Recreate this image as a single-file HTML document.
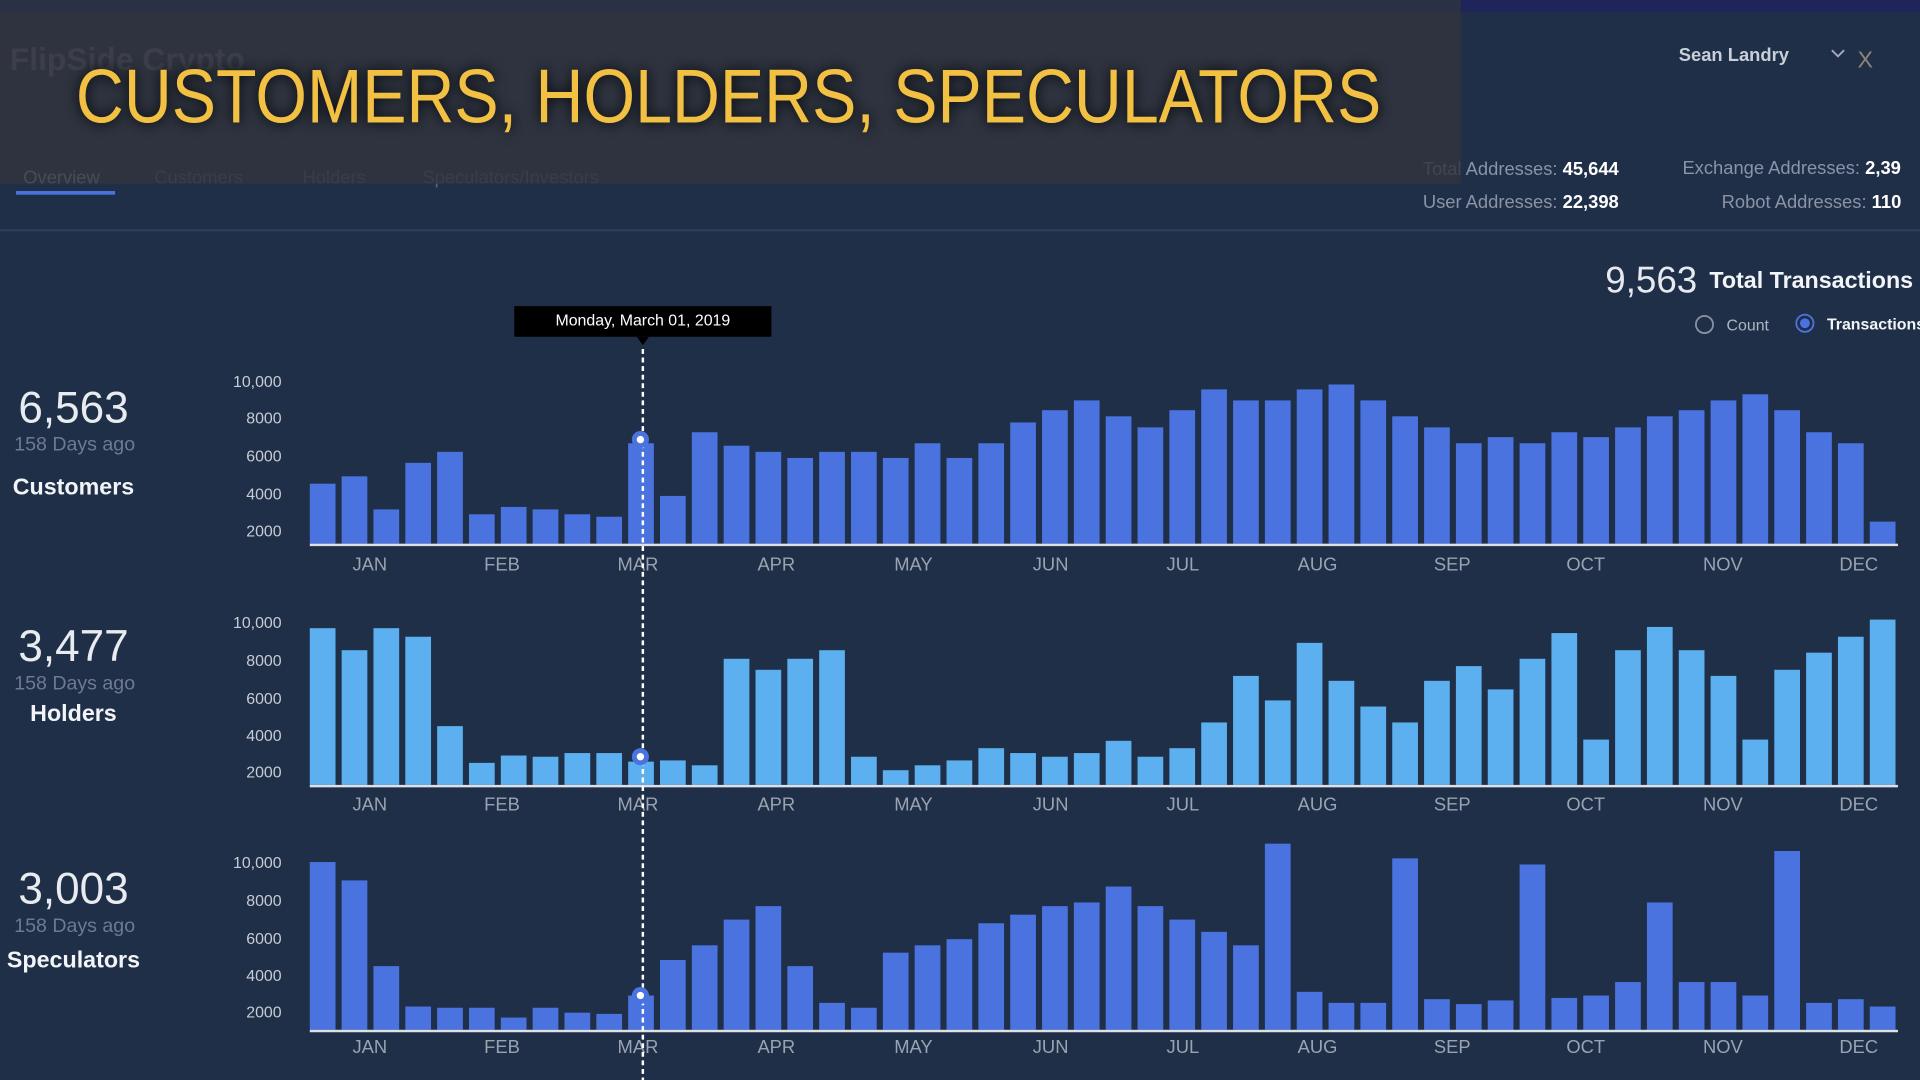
<!DOCTYPE html>
<html><head><meta charset="utf-8"><style>
html,body{margin:0;padding:0;background:#1f2f48;overflow:hidden}
svg{display:block}
text{font-family:"Liberation Sans",sans-serif}
</style></head><body>
<svg width="1920" height="1080" viewBox="0 0 1568 882" xmlns="http://www.w3.org/2000/svg">
<rect width="1568" height="882" fill="#1f2f48"/>
<rect x="0" y="0" width="1568" height="10" fill="#1f2558"/>
<rect x="0" y="0" width="1193" height="10" fill="#2b3145"/>
<!-- header underneath -->
<text x="8" y="57" font-size="26" font-weight="bold" fill="#6b7280">FlipSide Crypto</text>
<text x="19" y="150" font-size="15" fill="#b0b6c2">Overview</text>
<rect x="13" y="156" width="81" height="3" fill="#4a73e0"/>
<text x="126" y="150" font-size="15" fill="#5b6578">Customers</text>
<text x="247" y="150" font-size="15" fill="#5b6578">Holders</text>
<text x="345" y="150" font-size="15" fill="#5b6578">Speculators/Investors</text>
<rect x="0" y="187" width="1568" height="2" fill="#2c3d58"/>
<text x="1371" y="50" font-size="15" font-weight="bold" fill="#c9ced8">Sean Landry</text>
<path d="M1496 41 l5 5 l5 -5" stroke="#aab" stroke-width="1.5" fill="none"/>
<text x="1517" y="55" font-size="19" fill="#8a8578">X</text>
<text x="1322" y="143" font-size="15" text-anchor="end" fill="#8b93a5">Total Addresses: <tspan fill="#fff" font-weight="bold">45,644</tspan></text>
<text x="1322" y="170" font-size="15" text-anchor="end" fill="#8b93a5">User Addresses: <tspan fill="#fff" font-weight="bold">22,398</tspan></text>
<text x="1374" y="142" font-size="15" fill="#8b93a5">Exchange Addresses: <tspan fill="#fff" font-weight="bold">2,39</tspan></text>
<text x="1406" y="170" font-size="15" fill="#8b93a5">Robot Addresses: <tspan fill="#fff" font-weight="bold">110</tspan></text>
<text x="1311" y="239" font-size="30" fill="#e6e9ef">9,563</text>
<text x="1396" y="235" font-size="19" font-weight="bold" fill="#f2f4f7">Total Transactions</text>
<circle cx="1392" cy="265" r="7" fill="none" stroke="#8a90a0" stroke-width="1.5"/>
<text x="1410" y="270" font-size="13" fill="#aeb5c2">Count</text>
<circle cx="1474" cy="264" r="7" fill="none" stroke="#4a73e0" stroke-width="1.5"/>
<circle cx="1474" cy="264" r="4" fill="#4a73e0"/>
<text x="1492" y="269" font-size="13" font-weight="bold" fill="#f2f4f7">Transactions</text>
<!-- overlay -->
<rect x="0" y="10" width="1193" height="140" fill="#32353d" opacity="0.82"/>
<text x="62" y="100" font-size="62" fill="#f2c043" textLength="1066" lengthAdjust="spacingAndGlyphs" style="text-shadow:0 0 14px #000">CUSTOMERS, HOLDERS, SPECULATORS</text>

<!-- left labels -->
<g text-anchor="middle">
<text x="60" y="345" font-size="36" fill="#e8ebf0">6,563</text>
<text x="61" y="368" font-size="16" fill="#6e7a8e">158 Days ago</text>
<text x="60" y="404" font-size="19" font-weight="bold" fill="#f2f4f7">Customers</text>
<text x="60" y="540" font-size="36" fill="#e8ebf0">3,477</text>
<text x="61" y="563" font-size="16" fill="#6e7a8e">158 Days ago</text>
<text x="60" y="589" font-size="19" font-weight="bold" fill="#f2f4f7">Holders</text>
<text x="60" y="738" font-size="36" fill="#e8ebf0">3,003</text>
<text x="61" y="761" font-size="16" fill="#6e7a8e">158 Days ago</text>
<text x="60" y="790" font-size="19" font-weight="bold" fill="#f2f4f7">Speculators</text>
</g>

<!-- y ticks -->
<g font-size="13" fill="#c8ccd4" text-anchor="end">
<text x="230" y="316">10,000</text><text x="230" y="346">8000</text><text x="230" y="377">6000</text><text x="230" y="408">4000</text><text x="230" y="438">2000</text>
<text x="230" y="513">10,000</text><text x="230" y="544">8000</text><text x="230" y="575">6000</text><text x="230" y="605">4000</text><text x="230" y="635">2000</text>
<text x="230" y="709">10,000</text><text x="230" y="740">8000</text><text x="230" y="771">6000</text><text x="230" y="801">4000</text><text x="230" y="831">2000</text>
</g>

<!-- customers bars -->
<g fill="#4a73e0">
<rect x="253" y="395" width="21" height="49"/><rect x="279" y="389" width="21" height="55"/><rect x="305" y="416" width="21" height="28"/><rect x="331" y="378" width="21" height="66"/><rect x="357" y="369" width="21" height="75"/><rect x="383" y="420" width="21" height="24"/><rect x="409" y="414" width="21" height="30"/><rect x="435" y="416" width="21" height="28"/><rect x="461" y="420" width="21" height="24"/><rect x="487" y="422" width="21" height="22"/><rect x="513" y="362" width="21" height="82"/><rect x="539" y="405" width="21" height="39"/><rect x="565" y="353" width="21" height="91"/><rect x="591" y="364" width="21" height="80"/><rect x="617" y="369" width="21" height="75"/><rect x="643" y="374" width="21" height="70"/><rect x="669" y="369" width="21" height="75"/><rect x="695" y="369" width="21" height="75"/><rect x="721" y="374" width="21" height="70"/><rect x="747" y="362" width="21" height="82"/><rect x="773" y="374" width="21" height="70"/><rect x="799" y="362" width="21" height="82"/><rect x="825" y="345" width="21" height="99"/><rect x="851" y="335" width="21" height="109"/><rect x="877" y="327" width="21" height="117"/><rect x="903" y="340" width="21" height="104"/><rect x="929" y="349" width="21" height="95"/><rect x="955" y="335" width="21" height="109"/><rect x="981" y="318" width="21" height="126"/><rect x="1007" y="327" width="21" height="117"/><rect x="1033" y="327" width="21" height="117"/><rect x="1059" y="318" width="21" height="126"/><rect x="1085" y="314" width="21" height="130"/><rect x="1111" y="327" width="21" height="117"/><rect x="1137" y="340" width="21" height="104"/><rect x="1163" y="349" width="21" height="95"/><rect x="1189" y="362" width="21" height="82"/><rect x="1215" y="357" width="21" height="87"/><rect x="1241" y="362" width="21" height="82"/><rect x="1267" y="353" width="21" height="91"/><rect x="1293" y="357" width="21" height="87"/><rect x="1319" y="349" width="21" height="95"/><rect x="1345" y="340" width="21" height="104"/><rect x="1371" y="335" width="21" height="109"/><rect x="1397" y="327" width="21" height="117"/><rect x="1423" y="322" width="21" height="122"/><rect x="1449" y="335" width="21" height="109"/><rect x="1475" y="353" width="21" height="91"/><rect x="1501" y="362" width="21" height="82"/><rect x="1527" y="426" width="21" height="18"/>
</g>
<!-- holders bars -->
<g fill="#5cb0f0">
<rect x="253" y="513" width="21" height="128"/><rect x="279" y="531" width="21" height="110"/><rect x="305" y="513" width="21" height="128"/><rect x="331" y="520" width="21" height="121"/><rect x="357" y="593" width="21" height="48"/><rect x="383" y="623" width="21" height="18"/><rect x="409" y="617" width="21" height="24"/><rect x="435" y="618" width="21" height="23"/><rect x="461" y="615" width="21" height="26"/><rect x="487" y="615" width="21" height="26"/><rect x="513" y="622" width="21" height="19"/><rect x="539" y="621" width="21" height="20"/><rect x="565" y="625" width="21" height="16"/><rect x="591" y="538" width="21" height="103"/><rect x="617" y="547" width="21" height="94"/><rect x="643" y="538" width="21" height="103"/><rect x="669" y="531" width="21" height="110"/><rect x="695" y="618" width="21" height="23"/><rect x="721" y="629" width="21" height="12"/><rect x="747" y="625" width="21" height="16"/><rect x="773" y="621" width="21" height="20"/><rect x="799" y="611" width="21" height="30"/><rect x="825" y="615" width="21" height="26"/><rect x="851" y="618" width="21" height="23"/><rect x="877" y="615" width="21" height="26"/><rect x="903" y="605" width="21" height="36"/><rect x="929" y="618" width="21" height="23"/><rect x="955" y="611" width="21" height="30"/><rect x="981" y="590" width="21" height="51"/><rect x="1007" y="552" width="21" height="89"/><rect x="1033" y="572" width="21" height="69"/><rect x="1059" y="525" width="21" height="116"/><rect x="1085" y="556" width="21" height="85"/><rect x="1111" y="577" width="21" height="64"/><rect x="1137" y="590" width="21" height="51"/><rect x="1163" y="556" width="21" height="85"/><rect x="1189" y="544" width="21" height="97"/><rect x="1215" y="563" width="21" height="78"/><rect x="1241" y="538" width="21" height="103"/><rect x="1267" y="517" width="21" height="124"/><rect x="1293" y="604" width="21" height="37"/><rect x="1319" y="531" width="21" height="110"/><rect x="1345" y="512" width="21" height="129"/><rect x="1371" y="531" width="21" height="110"/><rect x="1397" y="552" width="21" height="89"/><rect x="1423" y="604" width="21" height="37"/><rect x="1449" y="547" width="21" height="94"/><rect x="1475" y="533" width="21" height="108"/><rect x="1501" y="520" width="21" height="121"/><rect x="1527" y="506" width="21" height="135"/>
</g>
<!-- speculators bars -->
<g fill="#4a73e0">
<rect x="253" y="704" width="21" height="137"/><rect x="279" y="719" width="21" height="122"/><rect x="305" y="789" width="21" height="52"/><rect x="331" y="822" width="21" height="19"/><rect x="357" y="823" width="21" height="18"/><rect x="383" y="823" width="21" height="18"/><rect x="409" y="831" width="21" height="10"/><rect x="435" y="823" width="21" height="18"/><rect x="461" y="827" width="21" height="14"/><rect x="487" y="828" width="21" height="13"/><rect x="513" y="813" width="21" height="28"/><rect x="539" y="784" width="21" height="57"/><rect x="565" y="772" width="21" height="69"/><rect x="591" y="751" width="21" height="90"/><rect x="617" y="740" width="21" height="101"/><rect x="643" y="789" width="21" height="52"/><rect x="669" y="819" width="21" height="22"/><rect x="695" y="823" width="21" height="18"/><rect x="721" y="778" width="21" height="63"/><rect x="747" y="772" width="21" height="69"/><rect x="773" y="767" width="21" height="74"/><rect x="799" y="754" width="21" height="87"/><rect x="825" y="747" width="21" height="94"/><rect x="851" y="740" width="21" height="101"/><rect x="877" y="737" width="21" height="104"/><rect x="903" y="724" width="21" height="117"/><rect x="929" y="740" width="21" height="101"/><rect x="955" y="751" width="21" height="90"/><rect x="981" y="761" width="21" height="80"/><rect x="1007" y="772" width="21" height="69"/><rect x="1033" y="689" width="21" height="152"/><rect x="1059" y="810" width="21" height="31"/><rect x="1085" y="819" width="21" height="22"/><rect x="1111" y="819" width="21" height="22"/><rect x="1137" y="701" width="21" height="140"/><rect x="1163" y="816" width="21" height="25"/><rect x="1189" y="820" width="21" height="21"/><rect x="1215" y="817" width="21" height="24"/><rect x="1241" y="706" width="21" height="135"/><rect x="1267" y="815" width="21" height="26"/><rect x="1293" y="813" width="21" height="28"/><rect x="1319" y="802" width="21" height="39"/><rect x="1345" y="737" width="21" height="104"/><rect x="1371" y="802" width="21" height="39"/><rect x="1397" y="802" width="21" height="39"/><rect x="1423" y="813" width="21" height="28"/><rect x="1449" y="695" width="21" height="146"/><rect x="1475" y="819" width="21" height="22"/><rect x="1501" y="816" width="21" height="25"/><rect x="1527" y="822" width="21" height="19"/>
</g>
<!-- axes -->
<g fill="#dde1e6">
<rect x="253" y="444" width="1297" height="2"/>
<rect x="253" y="641" width="1297" height="2"/>
<rect x="253" y="841" width="1297" height="2"/>
</g>
<!-- month labels -->
<g font-size="15" fill="#9aa3b1" text-anchor="middle">
<text x="302" y="466">JAN</text><text x="410" y="466">FEB</text><text x="521" y="466">MAR</text><text x="634" y="466">APR</text><text x="746" y="466">MAY</text><text x="858" y="466">JUN</text><text x="966" y="466">JUL</text><text x="1076" y="466">AUG</text><text x="1186" y="466">SEP</text><text x="1295" y="466">OCT</text><text x="1407" y="466">NOV</text><text x="1518" y="466">DEC</text>
<text x="302" y="662">JAN</text><text x="410" y="662">FEB</text><text x="521" y="662">MAR</text><text x="634" y="662">APR</text><text x="746" y="662">MAY</text><text x="858" y="662">JUN</text><text x="966" y="662">JUL</text><text x="1076" y="662">AUG</text><text x="1186" y="662">SEP</text><text x="1295" y="662">OCT</text><text x="1407" y="662">NOV</text><text x="1518" y="662">DEC</text>
<text x="302" y="860">JAN</text><text x="410" y="860">FEB</text><text x="521" y="860">MAR</text><text x="634" y="860">APR</text><text x="746" y="860">MAY</text><text x="858" y="860">JUN</text><text x="966" y="860">JUL</text><text x="1076" y="860">AUG</text><text x="1186" y="860">SEP</text><text x="1295" y="860">OCT</text><text x="1407" y="860">NOV</text><text x="1518" y="860">DEC</text>
</g>
<!-- tooltip and cursor -->
<line x1="525" y1="285" x2="525" y2="882" stroke="#fff" stroke-width="2" stroke-dasharray="4,3"/>
<rect x="420" y="250" width="210" height="25" fill="#000"/>
<path d="M520 275 L525 282 L530 275 Z" fill="#000"/>
<text x="525" y="266" font-size="13" fill="#fff" text-anchor="middle">Monday, March 01, 2019</text>
<g>
<circle cx="523" cy="359" r="7" fill="#4a73e0"/><circle cx="523" cy="359" r="3" fill="#fff"/>
<circle cx="523" cy="618" r="7" fill="#4a73e0"/><circle cx="523" cy="618" r="3" fill="#fff"/>
<circle cx="523" cy="813" r="7" fill="#4a73e0"/><circle cx="523" cy="813" r="3" fill="#fff"/>
</g>
</svg>
</body></html>
